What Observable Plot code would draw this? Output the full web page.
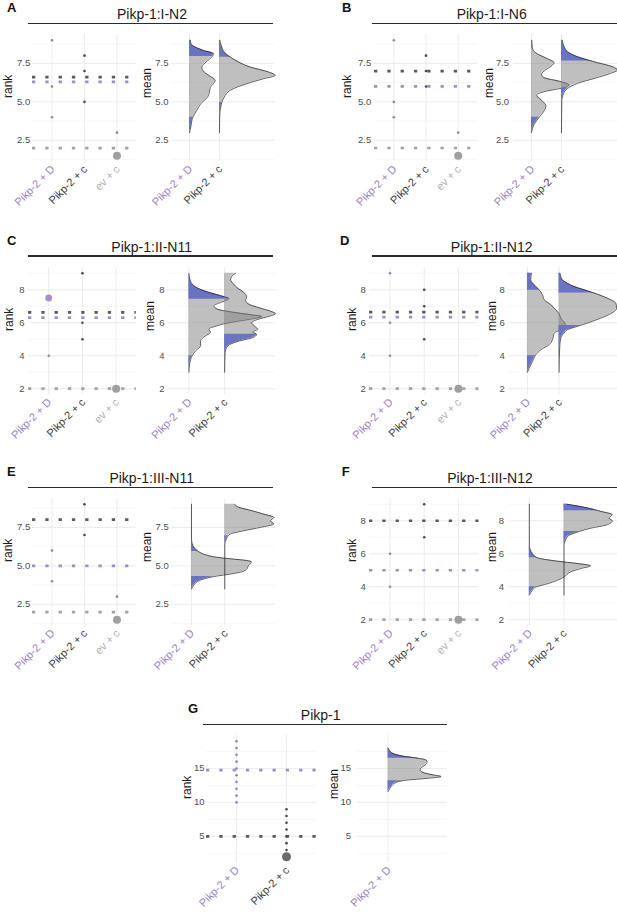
<!DOCTYPE html>
<html><head><meta charset="utf-8">
<script src="https://cdn.jsdelivr.net/npm/d3@7"></script>
<script src="https://cdn.jsdelivr.net/npm/@observablehq/plot@0.6"></script>
<style>
html,body{margin:0;padding:0;background:#fff;overflow:hidden;}
#fig{position:relative;width:617px;height:912px;overflow:hidden;background:#fff;font-family:"Liberation Sans",Arial,sans-serif;}
.letter{position:absolute;font-weight:bold;font-size:13px;line-height:12px;color:#111;}
.title{position:absolute;font-size:14px;line-height:14px;color:#1a1a1a;transform:translateX(-50%);white-space:nowrap;}
.rule{position:absolute;height:1.2px;background:#2b2b2b;}
</style></head><body><div id="fig"></div><script>
// ---------------- categories ----------------
const D = "Pikp-2 + D", C = "Pikp-2 + c", EV = "ev + c";
const leftCats = [D, C, EV];
const rightCats = [D, C];
const leftCatsG = [D, C];
const rightCatsG = [D];

const letters = ["A", "B", "C", "D", "E", "F", "G"];
const titles = ["Pikp-1:I-N2", "Pikp-1:I-N6", "Pikp-1:II-N11", "Pikp-1:II-N12", "Pikp-1:III-N11", "Pikp-1:III-N12", "Pikp-1"];

// ---------------- tick labels ----------------
const ticksHalf = [2.5, 5, 7.5];
const ticksHalfLabels = ["2.5", "5.0", "7.5"];
const minorHalf = [1.25, 3.75, 6.25, 8.75];
const ticksEven = [2, 4, 6, 8];
const ticksEvenLabels = ["2", "4", "6", "8"];
const minorEven = [3, 5, 7, 9];
const ticksG = [5, 10, 15];
const ticksGLabels = ["5", "10", "15"];
const minorG = [2.5, 7.5, 12.5, 17.5];

// ---------------- panel A ----------------
const meansA = [[C, 6.6], [D, 6.3], [EV, 2]];
const dotsA = [[D, 9], [D, 6], [D, 4], [C, 8], [C, 7], [C, 5], [EV, 3]];
const bigA = [[EV, 1.5]];
const ridgeA_D = [[3.0,0],[3.37,1.3],[4.0,3.3],[4.45,7.3],[4.95,12.3],[5.3,18],[5.65,20],[5.92,20.7],[6.18,24],[6.4,25.7],[6.66,20.7],[6.94,14.7],[7.26,12.3],[7.59,16.7],[7.91,22.3],[8.13,24],[8.34,14],[8.56,5.7],[8.78,1.5],[9.0,0.8]];
const quantA_D = [4.0, 7.95];
const ridgeA_C = [[3.0,0],[4.2,0.3],[4.66,1.3],[4.95,2.3],[5.31,4.7],[5.75,10.7],[6.18,27.3],[6.5,44],[6.72,55.7],[6.94,49],[7.26,30.7],[7.59,19],[7.91,10.7],[8.24,4.7],[8.56,2.3],[8.88,0.7],[9.0,0.4]];
const quantA_C = [4.95, 7.9];

// ---------------- panel B ----------------
const meansB = [[C, 7], [D, 6], [EV, 2]];
const dotsB = [[D, 9], [D, 5], [D, 4], [C, 8], [C, 7], [C, 6], [EV, 3]];
const bigB = [[EV, 1.5]];
const ridgeB_D = [[3.0,0],[3.55,2.7],[4.0,7.7],[4.46,13],[4.72,14.5],[5.11,10],[5.43,5],[5.65,12],[5.93,32.7],[6.09,37.7],[6.3,30],[6.59,12],[6.8,10],[7.07,14],[7.39,21],[7.54,22.7],[7.83,15],[8.15,5],[8.37,1.5],[8.7,0.5],[9.0,0.3]];
const quantB_D = [4.0, 8.5];
const ridgeB_C = [[3.0,0],[5.1,0.3],[5.33,1],[5.54,2],[5.87,6],[6.2,16],[6.52,32.7],[6.85,49],[7.07,56],[7.28,51],[7.6,32.7],[7.93,16],[8.26,6],[8.59,2.7],[8.91,1],[9.0,0.8]];
const quantB_C = [5.9, 7.65];

// ---------------- panel C ----------------
const meansC = [[C, 6.63], [D, 6.31], [EV, 2]];
const dotsC = [[D, 4], [C, 9], [C, 6], [C, 5]];
const bigC = [[D, 7.5], [EV, 2]];
const ridgeC_D = [[3.0,0],[3.5,0.7],[4.0,3.3],[4.3,6.7],[4.61,11.7],[4.91,11.7],[5.21,16.7],[5.41,21.7],[5.62,20],[5.82,28.3],[6.02,41.7],[6.22,61.7],[6.38,73],[6.46,65],[6.63,45],[6.83,28.3],[7.03,25],[7.23,31.7],[7.47,40],[7.64,31.7],[7.94,15],[8.34,3.3],[8.7,0.7],[9.0,0]];
const quantC_D = [4.0, 7.42];
const ridgeC_C = [[3.0,0],[4.2,0.5],[4.5,2],[4.7,6],[4.9,15],[5.1,28],[5.3,32],[5.45,28],[5.6,33],[5.8,30],[6.0,27],[6.2,33],[6.4,45],[6.55,51],[6.7,46],[6.9,35],[7.1,25],[7.35,21],[7.6,22],[7.85,19],[8.1,13],[8.35,9],[8.6,6],[8.8,7],[9.0,11]];
const quantC_C = [5.3, 9.5];

// ---------------- panel D ----------------
const meansD = [[C, 6.65], [D, 6.34], [EV, 2]];
const dotsD = [[D, 9], [D, 6], [D, 4], [C, 8], [C, 7], [C, 5]];
const bigD = [[EV, 2]];
const ridgeD_D = [[3.0,0],[3.25,1.7],[3.66,5],[4.06,8.3],[4.36,13.3],[4.67,21.7],[4.97,25],[5.37,26.7],[5.58,33.3],[5.78,38.3],[5.98,37.3],[6.28,33.3],[6.55,31.7],[6.79,28.3],[7.1,23.3],[7.4,16.7],[7.7,15],[8.0,11.7],[8.2,8.3],[8.6,3.3],[8.8,3.5],[9.0,4]];
const quantD_D = [4.0, 7.97];
const ridgeD_C = [[3.0,0],[4.57,0.7],[5.07,1.7],[5.37,5],[5.58,8.3],[5.78,18.3],[5.98,28.3],[6.28,41.7],[6.55,51.7],[6.89,57.7],[7.19,56.7],[7.49,48.3],[7.8,35],[8.0,25],[8.2,15],[8.4,8.3],[8.6,3.3],[9.0,1]];
const quantD_C = [5.84, 7.8];

// ---------------- panel E ----------------
const meansE = [[C, 8], [D, 5], [EV, 2]];
const dotsE = [[D, 6], [D, 4], [C, 9], [C, 7], [EV, 3]];
const bigE = [[EV, 1.5]];
const ridgeE_D = [[3.5,0],[3.8,3],[4.05,8],[4.3,22],[4.5,42],[4.65,52],[4.85,56],[5.05,57],[5.25,60],[5.35,55],[5.45,40],[5.55,26],[5.7,15],[5.93,7],[6.2,2.5],[6.5,0.5],[6.8,0],[9.0,0]];
const quantE_D = [4.3, 5.93];
const ridgeE_C = [[3.5,0],[6.42,0],[6.64,1],[6.85,2.3],[7.07,5.7],[7.28,19],[7.5,35.7],[7.72,49],[7.93,45.7],[8.15,49],[8.36,39],[8.58,27.3],[8.8,14],[9.0,10]];
const quantE_C = [6.96, 9.5];

// ---------------- panel F ----------------
const meansF = [[C, 8], [D, 5], [EV, 2]];
const dotsF = [[D, 6], [D, 4], [C, 9], [C, 7]];
const bigF = [[EV, 2]];
const ridgeF_D = [[3.5,0],[3.78,3],[3.98,6.3],[4.18,18],[4.39,28],[4.59,34.7],[4.9,41.3],[5.1,51.3],[5.27,61.3],[5.41,48],[5.55,28],[5.76,8],[6.02,3],[6.29,0.7],[6.53,0],[9.0,0]];
const quantF_D = [4.0, 5.76];
const ridgeF_C = [[3.5,0],[6.53,0],[6.73,1],[7.04,3.3],[7.31,13.3],[7.55,26.7],[7.76,43.3],[8.0,48.3],[8.16,45],[8.37,48.3],[8.57,36.7],[8.78,23.3],[9.0,3]];
const quantF_C = [7.35, 8.61];

// ---------------- panel G ----------------
const meansG = [[D, 14.75], [C, 5]];
const dotsG = [[D,10],[D,11],[D,12],[D,13],[D,14],[D,15],[D,16],[D,17],[D,18],[D,19],[C,3],[C,4],[C,5],[C,6],[C,7],[C,8],[C,9]];
const bigG = [[C, 2]];
const ridgeG_D = [[11.6,0],[12.0,1.5],[12.5,4],[13.0,9],[13.3,20],[13.55,40],[13.8,53],[14.05,45],[14.4,35],[14.8,32],[15.1,33],[15.5,37],[15.9,39],[16.25,38],[16.5,30],[16.8,15],[17.2,5],[17.6,1.5],[18.0,0]];
const quantG_D = [13.2, 16.5];

// ---------------- styles (not data) ----------------
const catColor = {[D]: "#9a82c3", [C]: "#3b3b3b", [EV]: "#b0b0b0"};
const lineColor = {[D]: "#9d8dcb", [C]: "#5a5a5a", [EV]: "#a3a3a3"};
const dotColor = {[D]: "#8f83b3", [C]: "#4a4a4a", [EV]: "#8a8a8a"};
const bigColor = {[D]: "#a88ecb", [C]: "#6b6b6b", [EV]: "#9f9f9f"};
const bigR = {[D]: 3.4, [C]: 4.5, [EV]: 4};
const tailFill = ["#6a73c3", "#6a73c4"];     // per ridge (distinct so each group can be found)
const clipFill = ["#fe0001", "#fe0002"];
const FONT = '"Liberation Sans", Arial, sans-serif';
const PH = 127, ML = 48, MR = 8, MT = 12, MB = 62;
const rowTops = [0, 232.7, 464, 701];

const panels = [
  {cats: leftCats, rcats: rightCats, means: meansA, dots: dotsA, big: bigA, ticks: ticksHalf, tickLabels: ticksHalfLabels, minor: minorHalf,
   ridges: [{cat: D, pts: ridgeA_D, q: quantA_D}, {cat: C, pts: ridgeA_C, q: quantA_C}],
   lay: {row: 0, letterX: 7, titleX: 152, rule: [28, 273], left: {first: 51.7, last: 116.7, rankX: 8, tickRight: 30}, right: {c1: 189.3, pitch: 30, x1: 275, meanX: 146.7, tickRight: 168.3}}},
  {cats: leftCats, rcats: rightCats, means: meansB, dots: dotsB, big: bigB, ticks: ticksHalf, tickLabels: ticksHalfLabels, minor: minorHalf,
   ridges: [{cat: D, pts: ridgeB_D, q: quantB_D}, {cat: C, pts: ridgeB_C, q: quantB_C}],
   lay: {row: 0, letterX: 342, titleX: 491.7, rule: [371.7, 617], left: {first: 393.3, last: 457.7, rankX: 346.7, tickRight: 370.7}, right: {c1: 530.7, pitch: 30, x1: 617, meanX: 488.3, tickRight: 508.3}}},
  {cats: leftCats, rcats: rightCats, means: meansC, dots: dotsC, big: bigC, ticks: ticksEven, tickLabels: ticksEvenLabels, minor: minorEven,
   ridges: [{cat: D, pts: ridgeC_D, q: quantC_D}, {cat: C, pts: ridgeC_C, q: quantC_C}],
   lay: {row: 1, letterX: 7, titleX: 151.7, rule: [28.3, 273.3], left: {first: 48.3, last: 115.7, rankX: 8.3, tickRight: 24}, right: {c1: 188.3, pitch: 35.7, x1: 275, meanX: 150, tickRight: 164}}},
  {cats: leftCats, rcats: rightCats, means: meansD, dots: dotsD, big: bigD, ticks: ticksEven, tickLabels: ticksEvenLabels, minor: minorEven,
   ridges: [{cat: D, pts: ridgeD_D, q: quantD_D}, {cat: C, pts: ridgeD_C, q: quantD_C}],
   lay: {row: 1, letterX: 340, titleX: 491.7, rule: [371.7, 617], left: {first: 389.3, last: 457.7, rankX: 351.7, tickRight: 365}, right: {c1: 526.7, pitch: 31.6, x1: 617, meanX: 491.7, tickRight: 504}}},
  {cats: leftCats, rcats: rightCats, means: meansE, dots: dotsE, big: bigE, ticks: ticksHalf, tickLabels: ticksHalfLabels, minor: minorHalf,
   ridges: [{cat: D, pts: ridgeE_D, q: quantE_D}, {cat: C, pts: ridgeE_C, q: quantE_C}],
   lay: {row: 2, letterX: 7, titleX: 151.7, rule: [28.3, 273.3], left: {first: 51.7, last: 116.7, rankX: 8, tickRight: 30}, right: {c1: 191, pitch: 33.3, x1: 275, meanX: 146.7, tickRight: 168.3}}},
  {cats: leftCats, rcats: rightCats, means: meansF, dots: dotsF, big: bigF, ticks: ticksEven, tickLabels: ticksEvenLabels, minor: minorEven,
   ridges: [{cat: D, pts: ridgeF_D, q: quantF_D}, {cat: C, pts: ridgeF_C, q: quantF_C}],
   lay: {row: 2, letterX: 341.7, titleX: 490, rule: [371.7, 617], left: {first: 389.3, last: 457.7, rankX: 351.7, tickRight: 365}, right: {c1: 528.7, pitch: 34.7, x1: 617, meanX: 491.7, tickRight: 503.3}}},
  {cats: leftCatsG, rcats: rightCatsG, means: meansG, dots: dotsG, big: bigG, ticks: ticksG, tickLabels: ticksGLabels, minor: minorG,
   ridges: [{cat: D, pts: ridgeG_D, q: quantG_D}],
   lay: {row: 3, letterX: 188, titleX: 320.7, rule: [202.7, 446.7], left: {first: 236, last: 286, rankX: 186.7, tickRight: 204}, right: {c1: 387.7, pitch: 51, x1: 446.7, meanX: 333.3, tickRight: 350.7}}}
];

const fig = document.getElementById("fig");
const svgNS = "http://www.w3.org/2000/svg";

function place(el, left, top) {
  el.style.position = "absolute";
  el.style.left = left + "px";
  el.style.top = top + "px";
  fig.appendChild(el);
}
function addDiv(cls, text, left, top, width) {
  const d = document.createElement("div");
  d.className = cls;
  if (text) d.textContent = text;
  d.style.left = left + "px";
  d.style.top = top + "px";
  if (width != null) d.style.width = width + "px";
  fig.appendChild(d);
}
function yDomainOf(p) {
  const vals = [...p.dots.map(d => d[1]), ...p.big.map(d => d[1]), ...p.ridges.flatMap(r => r.pts.map(q => q[0]))];
  const lo = d3.min(vals), hi = d3.max(vals), pad = (hi - lo) * 0.05;
  return [lo - pad, hi + pad];
}
function gridMarks(p, n) {
  return [
    Plot.ruleY(p.minor, {stroke: "#f1f1f1", strokeWidth: 0.6}),
    Plot.ruleY(p.ticks, {stroke: "#e6e6e6", strokeWidth: 0.8}),
    Plot.ruleX(d3.range(1, n + 1), {stroke: "#e6e6e6", strokeWidth: 0.8})
  ];
}
function yTickMark(p, dx) {
  return Plot.text(p.ticks, {y: d => d, text: (d, i) => p.tickLabels[i], frameAnchor: "left", dx, textAnchor: "end", fontSize: 9.5, fill: "#4d4d4d"});
}
function xLabelMarks(cats) {
  return cats.map((c, i) => Plot.text([c], {x: () => i + 1, text: d => d, frameAnchor: "bottom", rotate: -45, textAnchor: "end", lineAnchor: "middle", dx: 1, dy: 6, fontSize: 11, fill: catColor[c]}));
}
function baseOptions(w, yDomain, xDomain) {
  return {
    width: w, height: PH + MT + MB,
    marginLeft: ML, marginRight: MR, marginTop: MT, marginBottom: MB,
    x: {type: "linear", domain: xDomain, axis: null},
    y: {type: "linear", domain: yDomain, axis: null},
    style: {background: "transparent", overflow: "visible", fontFamily: FONT}
  };
}

function leftPlot(p, yDomain, top) {
  const L = p.lay.left, n = p.cats.length;
  const pitch = (L.last - L.first) / (n - 1);
  const bx0 = L.first - 0.6 * pitch, bx1 = L.last + 0.6 * pitch;
  const idx = c => p.cats.indexOf(c) + 1;
  const marks = [
    ...gridMarks(p, n),
    ...p.means.map(([c, v]) => Plot.ruleY([v], {stroke: lineColor[c], strokeWidth: 2.7, strokeDasharray: "3.3,10"})),
    ...p.cats.map(c => Plot.dot(p.dots.filter(d => d[0] === c), {x: d => idx(d[0]), y: d => d[1], r: 1.3, fill: dotColor[c]})),
    ...p.big.map(([c, v]) => Plot.dot([v], {x: () => idx(c), y: d => d, r: bigR[c], fill: bigColor[c]})),
    yTickMark(p, L.tickRight - bx0),
    Plot.text(["rank"], {frameAnchor: "left", dx: L.rankX - bx0, rotate: -90, fontSize: 12, fill: "#1a1a1a"}),
    ...xLabelMarks(p.cats)
  ];
  const chart = Plot.plot({...baseOptions(bx1 - bx0 + ML + MR, yDomain, [0.4, n + 0.6]), marks});
  place(chart, bx0 - ML, top + 34 - MT);
}

function rightPlot(p, yDomain, top, key) {
  const R = p.lay.right, n = p.rcats.length;
  const bx0 = R.c1 - 0.6 * R.pitch, bx1 = R.x1;
  const xDomain = [0.4, 0.4 + (bx1 - bx0) / R.pitch];
  const k = 1 / R.pitch;
  const marks = [...gridMarks(p, n)];
  p.ridges.forEach((rg, j) => {
    const base = p.rcats.indexOf(rg.cat) + 1;
    const opts = {y: d => d[0], x1: () => base, x2: d => base + d[1] * k, curve: "monotone-y"};
    marks.push(Plot.areaX(rg.pts, {...opts, fill: "#808080", fillOpacity: 0.5}));
    marks.push(Plot.areaX(rg.pts, {...opts, fill: tailFill[j]}));
    marks.push(Plot.lineX(rg.pts, {x: d => base + d[1] * k, y: d => d[0], curve: "monotone-y", stroke: "#1a1a1a", strokeWidth: 0.7}));
    // tail regions beyond the quantiles, positioned by Plot's scales; used as clip shapes
    marks.push(Plot.rect([[yDomain[0] - 100, rg.q[0]], [rg.q[1], yDomain[1] + 100]], {
      x1: () => xDomain[0] - 100, x2: () => xDomain[1] + 100, y1: d => d[0], y2: d => d[1],
      fill: clipFill[j], fillOpacity: 0
    }));
  });
  marks.push(yTickMark(p, R.tickRight - bx0));
  marks.push(Plot.text(["mean"], {frameAnchor: "left", dx: R.meanX - bx0, rotate: -90, fontSize: 12, fill: "#1a1a1a"}));
  marks.push(...xLabelMarks(p.rcats));
  const chart = Plot.plot({...baseOptions(bx1 - bx0 + ML + MR, yDomain, xDomain), marks});
  const defs = document.createElementNS(svgNS, "defs");
  chart.insertBefore(defs, chart.firstChild);
  const findByFill = (color) => {
    const all = chart.querySelectorAll("g");
    for (const g of all) if ((g.getAttribute("fill") || "").toLowerCase() === color) return g;
    return null;
  };
  p.ridges.forEach((rg, j) => {
    const src = findByFill(clipFill[j]);
    const blue = findByFill(tailFill[j]);
    if (!src) return;
    const cp = document.createElementNS(svgNS, "clipPath");
    const id = `clip-${key}-${j}`;
    cp.setAttribute("id", id);
    cp.setAttribute("clipPathUnits", "userSpaceOnUse");
    src.querySelectorAll("rect").forEach(r => cp.appendChild(r.cloneNode(false)));
    defs.appendChild(cp);
    src.remove();
    if (blue) blue.setAttribute("clip-path", `url(#${id})`);
  });
  place(chart, bx0 - ML, top + 34 - MT);
}

panels.forEach((p, i) => {
  const top = rowTops[p.lay.row];
  const yDomain = yDomainOf(p);
  addDiv("letter", letters[i], p.lay.letterX, top + 2);
  addDiv("title", titles[i], p.lay.titleX, top + 6.9);
  addDiv("rule", null, p.lay.rule[0], top + 22.7, p.lay.rule[1] - p.lay.rule[0]);
  leftPlot(p, yDomain, top);
  rightPlot(p, yDomain, top, letters[i]);
});
</script></body></html>
